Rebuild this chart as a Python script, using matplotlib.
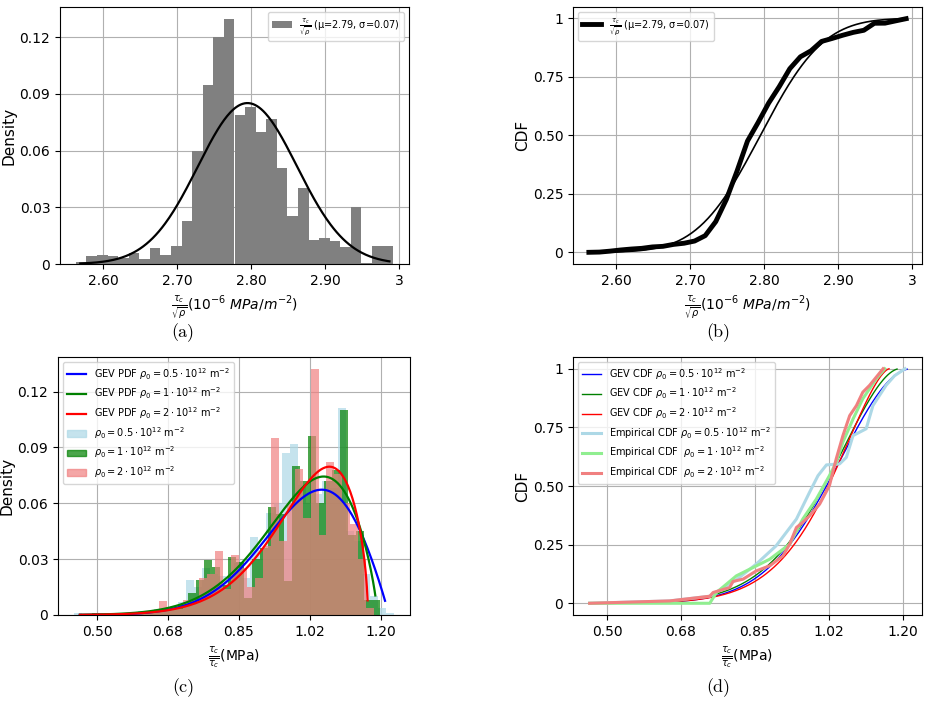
import math
import numpy as np
import matplotlib
matplotlib.use('Agg')
from matplotlib import pyplot as plt
from matplotlib.patches import Patch
from matplotlib.lines import Line2D

# ---- (a)/(b): tau_c / sqrt(rho) ----
a_lo, a_hi = 2.563, 2.992
a_heights = [0.001, 0.004, 0.005, 0.004, 0.003, 0.006, 0.0025, 0.0083, 0.005, 0.0094,
             0.023, 0.060, 0.0946, 0.120, 0.1295, 0.0789, 0.0833, 0.070, 0.0768, 0.0508,
             0.0256, 0.040, 0.0127, 0.0138, 0.0122, 0.009, 0.030, 0.0004, 0.0097, 0.0094]
a_mu, a_sigma = 2.795, 0.067
a_scale = 0.0143
a_curve_lo, a_curve_hi = 2.569, 2.987

# ---- (c)/(d): GEV fits for three rho_0 ----
rho_names = ['0.5', '1', '2']
hist_lo = [0.443, 0.449, 0.455]
hist_w = 0.0197
hist_05 = [0.001, 0, 0, 0.001, 0, 0.001, 0.001, 0.001, 0.002, 0.002,
           0.003, 0.004, 0.005, 0.007, 0.019, 0.015, 0.025, 0.022, 0.021, 0.020,
           0.028, 0.020, 0.042, 0.035, 0.055, 0.060, 0.087, 0.092, 0.070, 0.060,
           0.065, 0.072, 0.068, 0.111, 0.045, 0.040, 0.022, 0.010, 0.004, 0.001]
hist_1 = [0, 0, 0.001, 0, 0, 0.001, 0, 0.001, 0.001, 0.002,
          0.002, 0.003, 0.004, 0.006, 0.012, 0.019, 0.0295, 0.026, 0.016, 0.031,
          0.0285, 0.009, 0.030, 0.036, 0.058, 0.054, 0.018, 0.080, 0.072, 0.096,
          0.060, 0.072, 0.078, 0.110, 0.043, 0.045, 0.008, 0.008]
hist_2 = [0, 0, 0.001, 0, 0.001, 0, 0.001, 0.001, 0.001, 0.002,
          0.0075, 0.004, 0.003, 0.008, 0.008, 0.020, 0.022, 0.0345, 0.014, 0.032,
          0.025, 0.015, 0.020, 0.037, 0.095, 0.040, 0.060, 0.0786, 0.052, 0.132,
          0.043, 0.082, 0.076, 0.060, 0.049, 0.030, 0.004]

gev_xi = [-0.52, -0.58, -0.64]
gev_mu = [0.977, 0.972, 0.985]
gev_sigma = [0.126, 0.127, 0.117]
gev_scale = [0.0195, 0.0207, 0.0193]
gev_lo = 0.458
gev_hi = [1.21, 1.186, 1.167]

emp_x_05 = [0.459, 0.648, 0.743, 0.806, 0.853, 0.900, 0.948, 0.979, 0.999, 1.019,
            1.050, 1.066, 1.082, 1.097, 1.113, 1.129, 1.160, 1.180, 1.205]
emp_y_05 = [0, 0.01, 0.03, 0.10, 0.167, 0.245, 0.359, 0.473, 0.544, 0.59,
            0.594, 0.622, 0.715, 0.729, 0.744, 0.843, 0.929, 0.97, 1.0]
emp_x_1 = [0.459, 0.743, 0.759, 0.806, 0.845, 0.885, 0.932, 0.963, 0.995, 1.026,
           1.042, 1.058, 1.082, 1.105, 1.137, 1.157]
emp_y_1 = [0, 0.0, 0.046, 0.117, 0.152, 0.188, 0.252, 0.359, 0.444, 0.544,
           0.60, 0.687, 0.786, 0.872, 0.957, 1.0]
emp_x_2 = [0.459, 0.648, 0.743, 0.751, 0.790, 0.798, 0.822, 0.853, 0.885, 0.916,
           0.932, 0.948, 0.963, 0.979, 1.003, 1.026, 1.042, 1.058, 1.074, 1.090,
           1.105, 1.121, 1.153]
emp_y_2 = [0, 0.01, 0.03, 0.046, 0.067, 0.093, 0.103, 0.138, 0.16, 0.202,
           0.252, 0.323, 0.345, 0.373, 0.423, 0.501, 0.615, 0.715, 0.80, 0.843,
           0.90, 0.929, 1.0]

ab_xticks = [2.6, 2.7, 2.8, 2.9, 3.0]
ab_xlabels = ['2.60', '2.70', '2.80', '2.90', '3']
cd_xticks = [0.5, 0.675, 0.85, 1.025, 1.2]
cd_xlabels = ['0.50', '0.68', '0.85', '1.02', '1.20']
dens_ticks = [0, 0.03, 0.06, 0.09, 0.12]
dens_labels = ['0', '0.03', '0.06', '0.09', '0.12']
cdf_ticks = [0, 0.25, 0.5, 0.75, 1]
cdf_labels = ['0', '0.25', '0.50', '0.75', '1']


def gev_t(x, xi, mu, sigma):
    s = np.clip(1 + xi * (x - mu) / sigma, 1e-12, None)
    return s ** (-1.0 / xi)


def gev_pdf(x, xi, mu, sigma):
    t = gev_t(x, xi, mu, sigma)
    return t ** (xi + 1) * np.exp(-t) / sigma


def gev_cdf(x, xi, mu, sigma):
    return np.exp(-gev_t(x, xi, mu, sigma))


W, H = 930, 703
fig = plt.figure(figsize=(9.3, 7.03), dpi=100)


def px_axes(l, t, r, b):
    return fig.add_axes([l / W, 1 - b / H, (r - l) / W, (b - t) / H])


tick_fs = 10
xlab_fs = 10
ylab_fs = 11
leg_fs = 7.0

ax_a = px_axes(60, 7, 409, 264)
ax_b = px_axes(573, 7, 922, 264)
ax_c = px_axes(58, 357, 410, 615)
ax_d = px_axes(573, 357, 922, 615)

xlab_ab = r'$\frac{\tau_c}{\sqrt{\rho}}(10^{-6}\ MPa/m^{-2})$'
leg_ab = r'$\frac{\tau_c}{\sqrt{\rho}}$ (μ=2.79, σ=0.07)'

# (a)
edges_a = np.linspace(a_lo, a_hi, len(a_heights) + 1)
ax_a.hist(edges_a[:-1], bins=edges_a, weights=a_heights, color='gray', label=leg_ab)
xa = np.linspace(a_curve_lo, a_curve_hi, 300)
pdf_a = np.exp(-0.5 * ((xa - a_mu) / a_sigma) ** 2) / (a_sigma * math.sqrt(2 * math.pi))
ax_a.plot(xa, pdf_a * a_scale, color='black', lw=1.6)
ax_a.set_ylabel('Density', fontsize=ylab_fs, labelpad=2)
ax_a.set_xlabel(xlab_ab, fontsize=xlab_fs)
ax_a.set_yticks(dens_ticks)
ax_a.set_yticklabels(dens_labels)
ax_a.legend(loc='upper right', fontsize=7)

# (b)
cdf_emp = np.concatenate([[0], np.cumsum(a_heights)])
ax_b.plot(edges_a, cdf_emp, color='black', lw=3.5, label=leg_ab)
cdf_norm = [0.5 * (1 + math.erf((v - a_mu) / (a_sigma * math.sqrt(2)))) for v in xa]
ax_b.plot(xa, cdf_norm, color='black', lw=1.2)
ax_b.set_ylabel('CDF', fontsize=ylab_fs, labelpad=2)
ax_b.set_xlabel(xlab_ab, fontsize=xlab_fs)
ax_b.set_yticks(cdf_ticks)
ax_b.set_yticklabels(cdf_labels)
ax_b.legend(loc='upper left', fontsize=7)

for ax in (ax_a, ax_b):
    ax.set_xticks(ab_xticks)
    ax.set_xticklabels(ab_xlabels)

# (c)
hist_sets = [hist_05, hist_1, hist_2]
hist_colors = ['lightblue', 'green', 'lightcoral']
curve_colors = ['blue', 'green', 'red']
emp_colors = ['lightblue', 'lightgreen', 'lightcoral']
line_handles, patch_handles = [], []
for i in range(3):
    h = hist_sets[i]
    e = hist_lo[i] + hist_w * np.arange(len(h) + 1)
    ax_c.hist(e[:-1], bins=e, weights=h, color=hist_colors[i], alpha=0.7)
    patch_handles.append(Patch(color=hist_colors[i], alpha=0.7,
                               label=r'$\rho_0 = %s\cdot10^{12}$ m$^{-2}$' % rho_names[i]))
for i in range(3):
    xs = np.linspace(gev_lo, gev_hi[i], 400)
    ax_c.plot(xs, gev_pdf(xs, gev_xi[i], gev_mu[i], gev_sigma[i]) * gev_scale[i],
              color=curve_colors[i], lw=1.6)
    line_handles.append(Line2D([], [], color=curve_colors[i], lw=1.6,
                               label=r'GEV PDF $\rho_0 = %s\cdot10^{12}$ m$^{-2}$' % rho_names[i]))
ax_c.set_xlim(0.404, 1.2715)
ax_c.set_ylabel('Density', fontsize=ylab_fs, labelpad=2)
ax_c.set_xlabel(r'$\frac{\tau_c}{\overline{\tau_c}}$(MPa)', fontsize=xlab_fs)
ax_c.set_yticks(dens_ticks)
ax_c.set_yticklabels(dens_labels)
ax_c.legend(handles=line_handles + patch_handles, loc='upper left', fontsize=leg_fs,
            labelspacing=0.4)

# (d)
emp_sets = [(emp_x_05, emp_y_05), (emp_x_1, emp_y_1), (emp_x_2, emp_y_2)]
emp_names = [r'Empirical CDF $\rho_0 = 0.5\cdot10^{12}$ m$^{-2}$',
             r'Empirical CDF  $\rho_0 = 1\cdot10^{12}$ m$^{-2}$',
             r'Empirical CDF  $\rho_0 = 2\cdot10^{12}$ m$^{-2}$']
for i in range(3):
    xs = np.linspace(gev_lo, gev_hi[i], 400)
    ax_d.plot(xs, gev_cdf(xs, gev_xi[i], gev_mu[i], gev_sigma[i]), color=curve_colors[i],
              lw=1.0, label=r'GEV CDF $\rho_0 = %s\cdot10^{12}$ m$^{-2}$' % rho_names[i])
for i in range(3):
    ax_d.plot(emp_sets[i][0], emp_sets[i][1], color=emp_colors[i], lw=2.2,
              label=emp_names[i])
ax_d.set_xlim(0.4196, 1.245)
ax_d.set_ylabel('CDF', fontsize=ylab_fs, labelpad=2)
ax_d.set_xlabel(r'$\frac{\tau_c}{\overline{\tau_c}}$(MPa)', fontsize=xlab_fs)
ax_d.set_yticks(cdf_ticks)
ax_d.set_yticklabels(cdf_labels)
ax_d.legend(loc='upper left', fontsize=leg_fs, labelspacing=0.4)

for ax in (ax_c, ax_d):
    ax.set_xticks(cd_xticks)
    ax.set_xticklabels(cd_xlabels)

for ax in (ax_a, ax_b, ax_c, ax_d):
    ax.grid(True, color='#b0b0b0', lw=0.8)
    ax.set_axisbelow(True)
    ax.tick_params(labelsize=tick_fs)

cap = dict(fontsize=13, family=['cmr10', 'DejaVu Serif'], ha='center', va='center')
fig.text(183 / W, 1 - 333 / H, '(a)', **cap)
fig.text(718 / W, 1 - 333 / H, '(b)', **cap)
fig.text(183 / W, 1 - 688 / H, '(c)', **cap)
fig.text(718 / W, 1 - 688 / H, '(d)', **cap)

fig.savefig('out.png', dpi=100)
